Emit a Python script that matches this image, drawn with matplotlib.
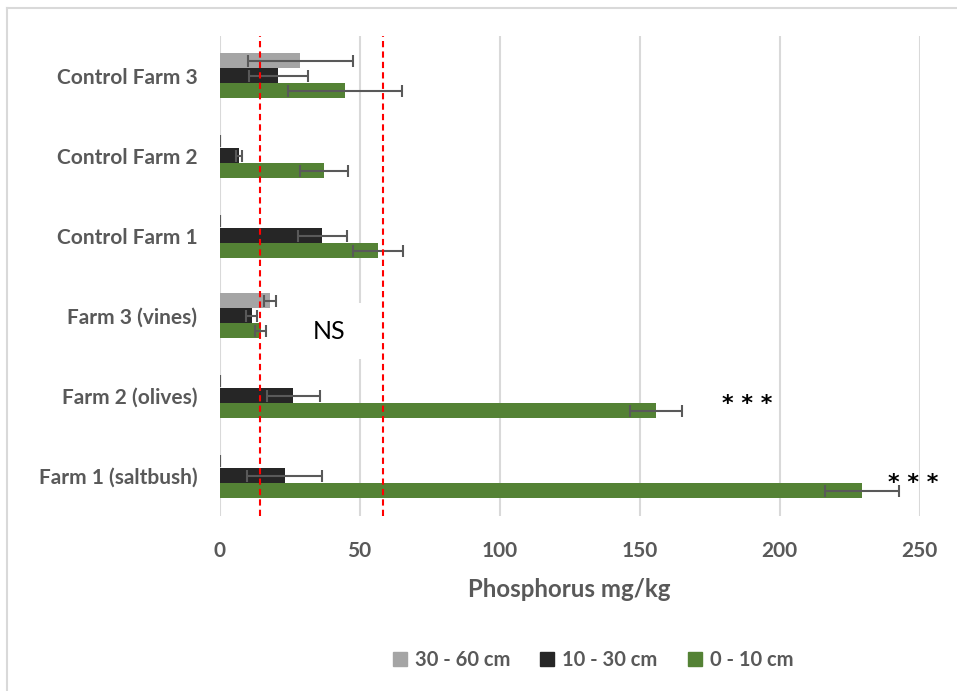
import numpy as np
import matplotlib.pyplot as plt
from matplotlib.patches import Patch
from matplotlib.lines import Line2D

plt.rcParams['font.family'] = ['Lato', 'DejaVu Sans']

# Sites, bottom to top
sites = ["Farm 1 (saltbush)", "Farm 2 (olives)", "Farm 3 (vines)",
         "Control Farm 1", "Control Farm 2", "Control Farm 3"]

# Mean phosphorus (mg/kg) and error per depth
p_0_10 = [229.5, 155.9, 14.7, 56.7, 37.2, 44.9]
e_0_10 = [13.3, 9.4, 1.9, 8.9, 8.5, 20.4]
p_10_30 = [23.3, 26.3, 11.5, 36.7, 7.0, 21.0]
e_10_30 = [13.4, 9.4, 1.9, 8.8, 1.1, 10.5]
p_30_60 = [0.3, 0.3, 18.0, 0.3, 0.3, 28.8]
e_30_60 = [0.0, 0.0, 2.0, 0.0, 0.0, 18.75]

# Reference thresholds
thresholds = [14.6, 58.2]

grey = "#595959"
y = np.arange(len(sites))
h = 0.1875

fig = plt.figure(figsize=(9.57, 6.91), dpi=100)
ax = fig.add_axes([0.2294, 0.2533, 0.7315, 0.6946])

err_kw = dict(ecolor=grey, capsize=4, elinewidth=1.5, capthick=1.5)
ax.barh(y + h, p_30_60, h, xerr=e_30_60, color="#A5A5A5", error_kw=err_kw, zorder=3)
ax.barh(y, p_10_30, h, xerr=e_10_30, color="#262626", error_kw=err_kw, zorder=3)
ax.barh(y - h, p_0_10, h, xerr=e_0_10, color="#548235", error_kw=err_kw, zorder=3)

for t in thresholds:
    ax.axvline(t, color="red", ls=(0, (3, 2)), lw=1.5, zorder=4)

ax.set_xlim(0, 250)
ax.set_ylim(-0.5, 5.5)
ax.set_xticks(np.arange(0, 251, 50))
ax.set_yticks(y)
ax.set_yticklabels(sites)
ax.grid(axis="x", color="#D9D9D9", lw=1.5, zorder=0)
ax.set_axisbelow(True)
for s in ax.spines.values():
    s.set_visible(False)
ax.tick_params(length=0, labelcolor=grey)
ax.tick_params(axis="y", labelsize=15.0, pad=16)
ax.tick_params(axis="x", labelsize=15, pad=18)
for lab in ax.get_xticklabels() + ax.get_yticklabels():
    lab.set_fontweight("bold")

ax.set_xlabel("Phosphorus mg/kg", fontsize=17.3, fontweight="bold", color=grey, labelpad=12)

# significance labels
ax.text(39, 1.81, "NS", fontsize=18, ha="center", va="center", zorder=2,
        bbox=dict(facecolor="white", edgecolor="none", pad=12))
ax.text(188.3, 0.90, "* * *", fontsize=16, ha="center", va="center",
        family="DejaVu Sans", fontweight="bold")
ax.text(247.7, -0.09, "* * *", fontsize=16, ha="center", va="center",
        family="DejaVu Sans", fontweight="bold", clip_on=False)

handles = [Patch(color="#A5A5A5"), Patch(color="#262626"), Patch(color="#548235")]
fig.legend(handles, ["30 - 60 cm", "10 - 30 cm", "0 - 10 cm"], ncol=3,
           loc="center", bbox_to_anchor=(593 / 957, 1 - 660 / 691), frameon=False,
           handlelength=0.7, handleheight=0.7, handletextpad=0.4, columnspacing=1.5,
           prop=dict(size=14.5, weight="bold"), labelcolor=grey)

# chart border (left and top edges)
fig.add_artist(Line2D([7.5 / 957, 7.5 / 957], [0, 1 - 7.5 / 691], color="#D9D9D9", lw=1.5))
fig.add_artist(Line2D([7.5 / 957, 1], [1 - 7.5 / 691, 1 - 7.5 / 691], color="#D9D9D9", lw=1.5))

fig.savefig("out.png", dpi=100)
